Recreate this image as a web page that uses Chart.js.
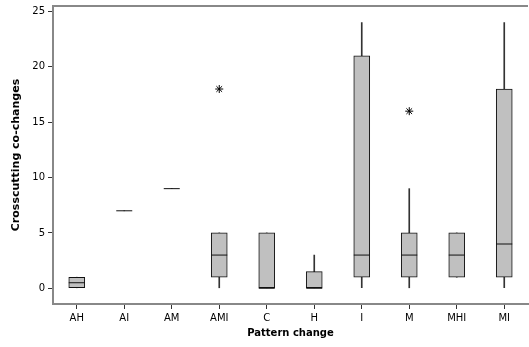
<!DOCTYPE html>
<html>
<head>
<meta charset="utf-8">
<script src="https://cdn.jsdelivr.net/npm/chart.js@4/dist/chart.umd.min.js"></script>
<style>
  body { margin: 0; overflow: hidden; background: #fff; }
  #wrap { width: 533px; height: 347px; }
</style>
</head>
<body>
<div id="wrap"><canvas id="myChart"></canvas></div>
<script>
// box plot data per pattern change
const categories = ['AH', 'AI', 'AM', 'AMI', 'C', 'H', 'I', 'M', 'MHI', 'MI']
const mins    = [0,   7, 9, 0, 0, 0,   0,  0, 1, 0]
const q1      = [0,   7, 9, 1, 0, 0,   1,  1, 1, 1]
const medians = [0.5, 7, 9, 3, 0, 0,   3,  3, 3, 4]
const q3      = [1,   7, 9, 5, 5, 1.5, 21, 5, 5, 18]
const maxs    = [1,   7, 9, 5, 5, 3,   24, 9, 5, 24]
const outliers = [null, null, null, 18, null, null, null, 16, null, null]
const yTicks = [0, 5, 10, 15, 20, 25]

const FONT = 'DejaVu Sans'

// medians + top frame line
const boxExtras = {
  id: 'boxExtras',
  afterDatasetsDraw(chart) {
    const { ctx, chartArea, scales: { x, y } } = chart
    ctx.save()
    ctx.strokeStyle = '#111'
    ctx.lineWidth = 1
    medians.forEach((m, i) => {
      const cx = x.getPixelForValue(i)
      const py = y.getPixelForValue(m)
      ctx.beginPath()
      ctx.moveTo(cx - 8, py)
      ctx.lineTo(cx + 8, py)
      ctx.stroke()
    })
    ctx.strokeStyle = '#888'
    ctx.lineWidth = 2
    ctx.beginPath()
    ctx.moveTo(chartArea.left, chartArea.top)
    ctx.lineTo(chartArea.right, chartArea.top)
    ctx.stroke()
    ctx.restore()
  }
}

const ctx = document.getElementById('myChart')

new Chart(ctx, {
  type: 'bar',
  data: {
    labels: categories,
    datasets: [
      {
        // outliers
        type: 'line',
        data: outliers,
        showLine: false,
        pointStyle: 'star',
        pointRadius: 4,
        borderColor: '#000',
        borderWidth: 1,
        order: 1
      },
      {
        // boxes
        data: categories.map((c, i) => [q1[i], q3[i]]),
        backgroundColor: '#c0c0c0',
        borderColor: '#111',
        borderWidth: 1,
        borderSkipped: false,
        barThickness: 16,
        grouped: false,
        order: 2
      },
      {
        // whiskers
        data: categories.map((c, i) => [mins[i], maxs[i]]),
        backgroundColor: '#333',
        borderWidth: 0,
        barThickness: 1,
        grouped: false,
        order: 3
      }
    ]
  },
  options: {
    responsive: true,
    maintainAspectRatio: false,
    animation: false,
    layout: { padding: { top: 6, left: 0, right: 0, bottom: 0 } },
    plugins: {
      legend: { display: false },
      tooltip: { enabled: false }
    },
    scales: {
      x: {
        afterFit: s => { s.height = 43 },
        grid: { offset: false, drawOnChartArea: false, drawTicks: true, tickLength: 5, color: '#333' },
        border: { color: '#888', width: 2 },
        ticks: { color: '#000', font: { family: FONT, size: 10 }, padding: 3, maxRotation: 0 },
        title: {
          display: true,
          text: 'Pattern change',
          color: '#000',
          font: { family: FONT, size: 10, weight: 'bold' },
          padding: { top: 0, bottom: 8 }
        }
      },
      y: {
        min: -1.42,
        max: 25.5,
        afterFit: s => { s.width = 53; s.paddingTop = 0; s.paddingBottom = 0 },
        afterBuildTicks: s => { s.ticks = yTicks.map(v => ({ value: v })) },
        grid: { drawOnChartArea: false, drawTicks: true, tickLength: 5, color: '#333' },
        border: { color: '#888', width: 2 },
        ticks: { color: '#000', font: { family: FONT, size: 10 }, padding: 3 },
        title: {
          display: true,
          text: 'Crosscutting co-changes',
          color: '#000',
          font: { family: FONT, size: 11, weight: 'bold' },
          padding: { top: 10, bottom: 0 }
        }
      }
    }
  },
  plugins: [boxExtras]
})
</script>
</body>
</html>
